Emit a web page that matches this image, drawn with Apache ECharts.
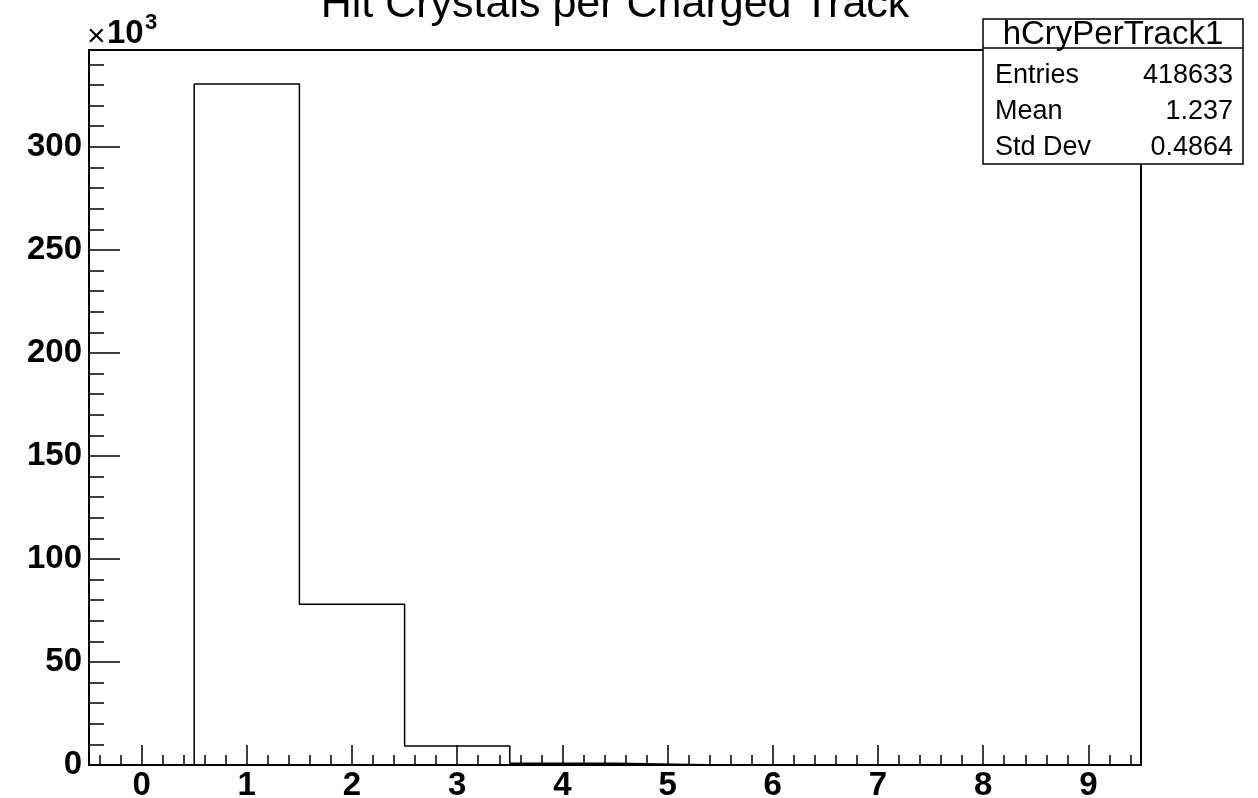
<!DOCTYPE html>
<html>
<head>
<meta charset="utf-8">
<script src="https://cdn.jsdelivr.net/npm/echarts@6/dist/echarts.min.js"></script>
<style>
html,body{margin:0;padding:0;background:#fff;}
#chart{width:1258px;height:798px;}
</style>
</head>
<body>
<div id="chart"></div>
<script>
// ---- data (counts in units of 10^3) ----
const binCenters = [0, 1, 2, 3, 4, 5, 6, 7, 8, 9];
const binCounts  = [0, 330.5, 78.0, 9.2, 0.9, 0, 0, 0, 0, 0];
const binWidth = 1;
const xTickValues = [0, 1, 2, 3, 4, 5, 6, 7, 8, 9];
const xTickLabels = ['0', '1', '2', '3', '4', '5', '6', '7', '8', '9'];
const yTickValues = [0, 50, 100, 150, 200, 250, 300];
const yTickLabels = ['0', '50', '100', '150', '200', '250', '300'];
const statsTitle = 'hCryPerTrack1';
const statsNames = ['Entries', 'Mean', 'Std Dev'];
const statsValues = ['418633', '1.237', '0.4864'];
const titleText = 'Hit Crystals per Charged Track';

const xMin = -0.5, xMax = 9.5, yMin = 0, yMax = 347;

// minor tick positions
const xMinor = [];
for (let v = -0.4; v < 9.5; v += 0.2) {
  const r = Math.round(v * 10) / 10;
  if (Math.abs(r - Math.round(r)) > 1e-6) xMinor.push(r);
}
const yMinor = [];
for (let v = 10; v < yMax; v += 10) { if (v % 50 !== 0) yMinor.push(v); }

// step outline of histogram built from the bins
const outline = [];
binCenters.forEach((c, i) => {
  outline.push([c - binWidth / 2, binCounts[i]]);
  outline.push([c + binWidth / 2, binCounts[i]]);
});
outline.unshift([binCenters[0] - binWidth / 2, 0]);
outline.push([binCenters[binCenters.length - 1] + binWidth / 2, 0]);

const FONT = '"Liberation Sans", Arial, Helvetica, sans-serif';
const chart = echarts.init(document.getElementById('chart'), null, {renderer: 'canvas'});

const statsX = 983, statsY = 19, statsW = 260, statsH = 145, statsTitleH = 29;
const graphics = [
  {type: 'text', z: 10, silent: true, position: [615, 5],
   style: {text: titleText, x: 0, y: 0, align: 'center', verticalAlign: 'middle',
           font: '43px ' + FONT, fill: '#000'}},
  {type: 'text', position: [87, 37], z: 10,
   style: {text: '\u00d7', x: 0, y: 0, align: 'left', verticalAlign: 'middle',
           font: '32px ' + FONT, fill: '#000'}},
  {type: 'text', position: [107, 34], z: 10,
   style: {text: '10', x: 0, y: 0, align: 'left', verticalAlign: 'middle',
           font: 'bold 33px ' + FONT, fill: '#000'}},
  {type: 'text', position: [145, 23], z: 10,
   style: {text: '3', x: 0, y: 0, align: 'left', verticalAlign: 'middle',
           font: 'bold 22px ' + FONT, fill: '#000'}},
  {type: 'rect', z: 20, shape: {x: statsX, y: statsY, width: statsW, height: statsH},
   style: {fill: '#fff', stroke: '#000', lineWidth: 1.5}},
  {type: 'line', z: 21, shape: {x1: statsX, y1: statsY + statsTitleH, x2: statsX + statsW, y2: statsY + statsTitleH},
   style: {stroke: '#000', lineWidth: 1.5}},
  {type: 'text', z: 22, position: [statsX + statsW / 2, statsY + statsTitleH / 2 + 1],
   style: {text: statsTitle, x: 0, y: 0, align: 'center', verticalAlign: 'middle',
           font: '33px ' + FONT, fill: '#000'}}
];
statsNames.forEach((n, i) => {
  const yy = 76 + i * 36;
  graphics.push({type: 'text', z: 22, position: [statsX + 12, yy],
    style: {text: n, x: 0, y: 0, align: 'left', verticalAlign: 'middle', font: '27px ' + FONT, fill: '#000'}});
  graphics.push({type: 'text', z: 22, position: [statsX + statsW - 10, yy],
    style: {text: statsValues[i], x: 0, y: 0, align: 'right', verticalAlign: 'middle', font: '27px ' + FONT, fill: '#000'}});
});

const option = {
  backgroundColor: '#fff',
  animation: false,
  grid: {left: 89, right: 117, top: 50, bottom: 33, show: true, containLabel: false,
         outerBoundsMode: 'none',
         borderColor: '#000', borderWidth: 2, backgroundColor: 'transparent'},
  xAxis: [
    {type: 'value', min: xMin, max: xMax, position: 'bottom', gridIndex: 0,
     axisLine: {show: true, onZero: false, lineStyle: {color: '#000', width: 2}},
     axisTick: {show: true, inside: true, length: 20, customValues: xTickValues,
                lineStyle: {color: '#000', width: 1.5}},
     axisLabel: {show: true, customValues: xTickValues, margin: 4,
                 formatter: v => xTickLabels[xTickValues.indexOf(Math.round(v))] ?? '',
                 color: '#000', fontFamily: FONT, fontWeight: 'bold', fontSize: 33},
     splitLine: {show: false}},
    {type: 'value', min: xMin, max: xMax, position: 'bottom', offset: 0, gridIndex: 0,
     axisLine: {show: false, onZero: false},
     axisTick: {show: true, inside: true, length: 10, customValues: xMinor,
                lineStyle: {color: '#000', width: 1.5}},
     axisLabel: {show: false}, splitLine: {show: false}}
  ],
  yAxis: [
    {type: 'value', min: yMin, max: yMax, position: 'left', gridIndex: 0,
     axisLine: {show: true, onZero: false, lineStyle: {color: '#000', width: 2}},
     axisTick: {show: true, inside: true, length: 31, customValues: yTickValues,
                lineStyle: {color: '#000', width: 1.5}},
     axisLabel: {show: true, customValues: yTickValues, margin: 7,
                 formatter: v => yTickLabels[yTickValues.indexOf(Math.round(v))] ?? '',
                 color: '#000', fontFamily: FONT, fontWeight: 'bold', fontSize: 33},
     splitLine: {show: false}},
    {type: 'value', min: yMin, max: yMax, position: 'left', offset: 0, gridIndex: 0,
     axisLine: {show: false, onZero: false},
     axisTick: {show: true, inside: true, length: 15, customValues: yMinor,
                lineStyle: {color: '#000', width: 1.5}},
     axisLabel: {show: false}, splitLine: {show: false}}
  ],
  series: [
    {type: 'line', xAxisIndex: 0, yAxisIndex: 0, data: outline, showSymbol: false,
     symbol: 'none', clip: true, silent: true,
     lineStyle: {color: '#000', width: 1.5}, z: 3}
  ],
  graphic: graphics
};
chart.setOption(option);
</script>
</body>
</html>
